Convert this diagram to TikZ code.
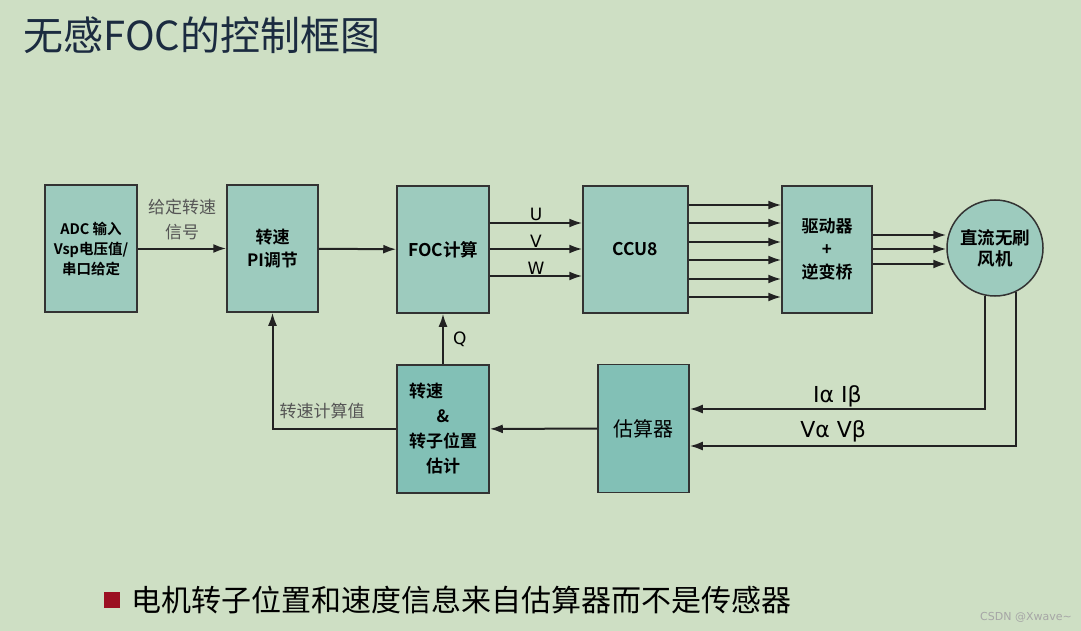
\documentclass[tikz,border=0pt]{standalone}
\usepackage{fontspec}
\setmainfont{Noto Sans CJK SC}[BoldFont={Noto Sans CJK SC Bold}]
\newfontfamily\verdfont{DejaVu Sans}
\usepackage{tikz}
\usetikzlibrary{arrows.meta}
\definecolor{bgcol}{HTML}{CEDFC4}
\definecolor{upfill}{HTML}{9DCBBE}
\definecolor{lowfill}{HTML}{82C0B6}
\definecolor{boxline}{HTML}{333333}
\definecolor{wirecol}{HTML}{222222}
\definecolor{labgray}{HTML}{555555}
\definecolor{titlecol}{HTML}{1B2B40}
\definecolor{bulletred}{HTML}{9B1022}

\begin{document}
\begin{tikzpicture}[
            x=1pt, y=-1pt,
            block/.style={draw=boxline, line width=1.5pt, fill=upfill, text=black,
              font=\fontsize{17}{23}\selectfont\bfseries, align=center,
              minimum height=127pt, inner sep=0pt},
            low block/.style={block, fill=lowfill, minimum height=128pt},
            wire/.style={line width=2pt, draw=wirecol, -{Latex[length=13pt,width=9pt]}},
            wire label/.style={text=labgray, font=\fontsize{17}{25}\selectfont, align=center},
            sig label/.style={text=black, font=\verdfont\fontsize{17}{20}\selectfont, inner sep=1pt},
            ]
            % background and page size
            \fill[bgcol] (0,0) rectangle (1081,631);
            \useasboundingbox (0,0) rectangle (1081,631);

            \node[text=titlecol, font=\fontsize{40}{48}\selectfont, anchor=west] (title) at (20,35) {无感FOC的控制框图};

            % forward path
            \node[block, minimum width=92pt, font=\fontsize{14.5}{20}\selectfont\bfseries] (adc) at (91,248.5) {ADC 输入\\Vsp电压值/\\串口给定};
            \node[block, minimum width=91pt] (pi) at (272.5,248.5) {转速\\PI调节};
            \node[block, minimum width=92pt, font=\fontsize{17.5}{23}\selectfont\bfseries] (foc) at (443,249.5) {FOC计算};
            \node[block, minimum width=105pt, font=\fontsize{17.5}{23}\selectfont\bfseries] (ccu) at (635.5,249.5) {CCU8};
            \node[block, minimum width=90pt] (drv) at (827,249.5) {驱动器\\+\\逆变桥};
            \node[draw=boxline, line width=1.5pt, fill=upfill, circle, minimum size=96pt, inner sep=0pt,
              align=center, font=\fontsize{17.5}{21}\selectfont\bfseries] (mot) at (995,248) {直流无刷\\风机};

            % feedback path
            \node[low block, minimum width=92pt, font=\fontsize{17}{25}\selectfont\bfseries] (est) at (443,429) {\makebox[4em][l]{转速}\\\&\\转子位置\\估计};
            \node[low block, minimum width=91pt, font=\fontsize{20}{24}\selectfont] (obs) at (643.5,428.5) {估算器};

            \draw[wire] (adc) -- node[wire label, above=4pt] {给定转速\\信号} (pi);
            \draw[wire] (pi) -- (foc);
            \foreach \y/\t in {223/U, 249/V, 276/W}
              \draw[wire] (foc.east |- 0,\y) -- node[sig label, above] {\t} (ccu.west |- 0,\y);
            \foreach \y in {205,223,242,260,279,297}
              \draw[wire] (ccu.east |- 0,\y) -- (drv.west |- 0,\y);
            \foreach \y in {235,249,264}
              \draw[wire] (drv.east |- 0,\y) -- (mot.west |- 0,\y);

            \draw[wire] (mot.-102) |- node[sig label, pos=0.75, above, font=\verdfont\fontsize{22}{24}\selectfont] {Iα Iβ} (obs.east |- 0,409);
            \draw[wire] (mot.-65) |- node[sig label, pos=0.78, above=2pt, font=\verdfont\fontsize{22}{24}\selectfont] {Vα Vβ} (obs.east |- 0,446);
            \draw[wire] (obs) -- (est);
            \draw[wire] (est) -- node[sig label, right=8pt] {Q} (foc);
            \draw[wire] (est.west) -| node[wire label, pos=0.3, above=6pt] {转速计算值} (pi.south);

            % note line
            \fill[bulletred] (104,592) rectangle (120,608);
            \node[anchor=west, text=black, font=\fontsize{30}{36}\selectfont, inner sep=0pt] (note) at (131,600)
              {电机转子位置和速度信息来自估算器而不是传感器};
            \node[anchor=east, text=gray!70, font=\verdfont\fontsize{11}{13}\selectfont, inner sep=0pt] (mark) at (1072,617) {CSDN @Xwave\char`~};
\end{tikzpicture}
\end{document}
